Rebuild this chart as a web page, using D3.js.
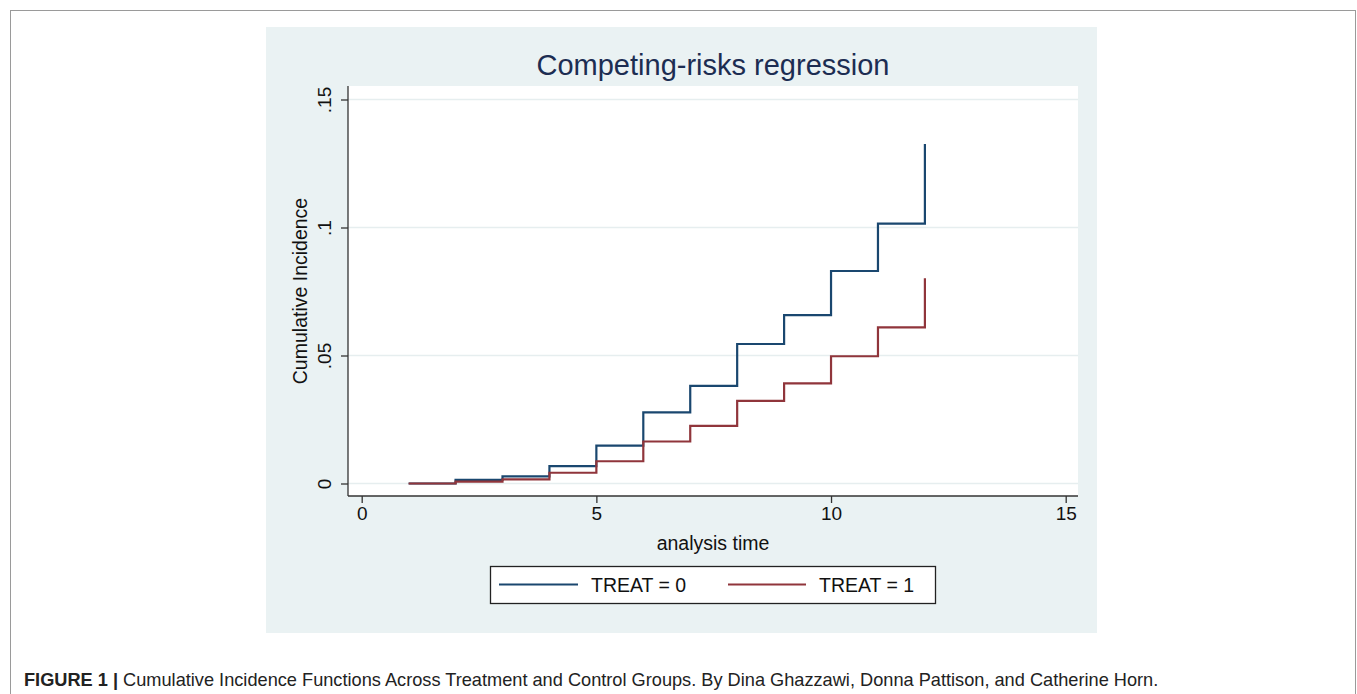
<!DOCTYPE html>
<html>
<head>
<meta charset="utf-8">
<script src="https://cdn.jsdelivr.net/npm/d3@7"></script>
<style>
  body { margin: 0; background: #fff; }
  svg { display: block; font-family: "Liberation Sans", Arial, sans-serif; }
</style>
</head>
<body>
<svg id="chart" width="1357" height="694"></svg>
<script>
// data
const times = [1, 2, 3, 4, 5, 6, 7, 8, 9, 10, 11, 12];
const cifTreat0 = [0, 0.0014, 0.0028, 0.0068, 0.0148, 0.0278, 0.0381, 0.0545, 0.0658, 0.083, 0.1015, 0.1326];
const cifTreat1 = [0, 0.0007, 0.0016, 0.0042, 0.0087, 0.0164, 0.0225, 0.0323, 0.0391, 0.0497, 0.061, 0.0802];
const xTicks = [0, 5, 10, 15];
const yTicks = [0, 0.05, 0.1, 0.15];
const yTickLabels = ["0", ".05", ".1", ".15"];
const seriesNames = ["TREAT = 0", "TREAT = 1"];
const seriesColors = ["#1a476f", "#90353b"];

const svg = d3.select('#chart');

// outer figure frame
svg.append('rect')
    .attr('x', 10.5).attr('y', 10.5)
    .attr('width', 1345).attr('height', 720)
    .attr('fill', 'none')
    .attr('stroke', '#9a9a9a')
    .attr('stroke-width', 1);

// graph region (Stata grey-blue)
svg.append('rect')
    .attr('x', 266).attr('y', 27)
    .attr('width', 831).attr('height', 606)
    .attr('fill', '#eaf2f3');

// plot region
const plot = { left: 348, right: 1078, top: 86, bottom: 496 };
svg.append('rect')
    .attr('x', plot.left).attr('y', plot.top)
    .attr('width', plot.right - plot.left).attr('height', plot.bottom - plot.top)
    .attr('fill', '#fff');

const x = d3.scaleLinear().domain([0, 15]).range([361.7, 1065.7]);
const y = d3.scaleLinear().domain([0, 0.15]).range([483.5, 99.5]);

// gridlines
svg.append('g')
    .selectAll('line')
    .data(yTicks)
    .enter()
    .append('line')
    .attr('x1', plot.left).attr('x2', plot.right)
    .attr('y1', d => y(d)).attr('y2', d => y(d))
    .attr('stroke', '#e6eeef')
    .attr('stroke-width', 1.5);

// step lines
const line = d3.line()
    .x(d => x(d[0]))
    .y(d => y(d[1]))
    .curve(d3.curveStepAfter);

[cifTreat0, cifTreat1].forEach((vals, i) => {
    svg.append('path')
        .datum(times.map((t, j) => [t, vals[j]]))
        .attr('d', line)
        .attr('fill', 'none')
        .attr('stroke', seriesColors[i])
        .attr('stroke-width', 2.2);
});

// x axis
const xAxis = svg.append('g')
    .attr('transform', `translate(0,${plot.bottom})`)
    .call(d3.axisBottom(x).tickValues(xTicks).tickSize(7).tickPadding(4).tickFormat(d3.format('d')));
xAxis.select('.domain').attr('d', `M${plot.left},0H${plot.right}`).attr('stroke', '#333').attr('stroke-width', 1.3);
xAxis.selectAll('.tick line').attr('stroke', '#333').attr('stroke-width', 1.3);
xAxis.selectAll('.tick text')
    .attr('font-size', '19px')
    .attr('fill', '#111')
    .attr('font-family', '"Liberation Sans", Arial, sans-serif');

// y axis
const yAxis = svg.append('g')
    .attr('transform', `translate(${plot.left},0)`)
    .call(d3.axisLeft(y).tickValues(yTicks).tickSize(7).tickFormat((d, i) => yTickLabels[i]));
yAxis.select('.domain').attr('d', `M0,${plot.top}V${plot.bottom}`).attr('stroke', '#333').attr('stroke-width', 1.3);
yAxis.selectAll('.tick line').attr('stroke', '#333').attr('stroke-width', 1.3);
yAxis.selectAll('.tick text')
    .attr('x', 0).attr('dy', 0)
    .attr('transform', 'translate(-17,0) rotate(-90)')
    .attr('text-anchor', 'middle')
    .attr('font-size', '19px')
    .attr('fill', '#111')
    .attr('font-family', '"Liberation Sans", Arial, sans-serif');

// title and axis titles
svg.append('text')
    .attr('x', 713).attr('y', 75)
    .attr('text-anchor', 'middle')
    .attr('font-size', '29px')
    .attr('fill', '#1c2d52')
    .text('Competing-risks regression');

svg.append('text')
    .attr('x', 713).attr('y', 550)
    .attr('text-anchor', 'middle')
    .attr('font-size', '19.5px')
    .attr('fill', '#111')
    .text('analysis time');

svg.append('text')
    .attr('transform', 'translate(307,291) rotate(-90)')
    .attr('text-anchor', 'middle')
    .attr('font-size', '19.5px')
    .attr('fill', '#111')
    .text('Cumulative Incidence');

// legend
const legend = svg.append('g');
legend.append('rect')
    .attr('x', 490.5).attr('y', 566.5)
    .attr('width', 445).attr('height', 37)
    .attr('fill', '#fff')
    .attr('stroke', '#222')
    .attr('stroke-width', 1.3);
const legendX = [[499, 578, 591], [728, 806, 819]];
seriesNames.forEach((name, i) => {
    legend.append('line')
        .attr('x1', legendX[i][0]).attr('x2', legendX[i][1])
        .attr('y1', 584.5).attr('y2', 584.5)
        .attr('stroke', seriesColors[i])
        .attr('stroke-width', 2);
    legend.append('text')
        .attr('x', legendX[i][2]).attr('y', 591.5)
        .attr('font-size', '19.5px')
        .attr('fill', '#111')
        .text(name);
});

// figure caption
const caption = svg.append('text')
    .attr('x', 24).attr('y', 686)
    .attr('font-size', '18.2px')
    .attr('fill', '#222');
caption.append('tspan')
    .attr('font-weight', 'bold')
    .text('FIGURE 1 |');
caption.append('tspan')
    .text(' Cumulative Incidence Functions Across Treatment and Control Groups. By Dina Ghazzawi, Donna Pattison, and Catherine Horn.');
</script>
</body>
</html>
